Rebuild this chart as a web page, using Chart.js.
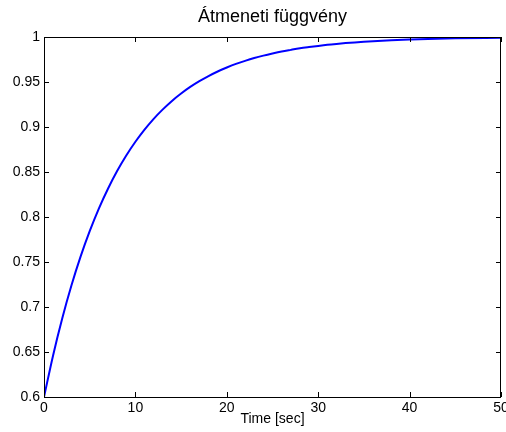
<!DOCTYPE html>
<html>
<head>
<meta charset="utf-8">
<script src="https://cdn.jsdelivr.net/npm/chart.js@4.4.0/dist/chart.umd.min.js"></script>
<style>
  html, body { margin: 0; padding: 0; background: #fff; }
  #wrap { width: 506px; height: 432px; }
</style>
</head>
<body>
<div id="wrap"><canvas id="chart" width="506" height="432"></canvas></div>
<script>
// step response
const timeSec = [0, 1, 2, 3, 4, 5, 6, 7, 8, 9, 10, 11, 12, 13, 14, 15, 16, 17, 18, 19, 20,
  21, 22, 23, 24, 25, 26, 27, 28, 29, 30, 31, 32, 33, 34, 35, 36, 38, 40, 42, 45, 50];
const response = [0.6, 0.6465, 0.6875, 0.7238, 0.7559, 0.7842, 0.8093, 0.8314, 0.8510, 0.8683,
  0.8836, 0.8971, 0.9091, 0.9196, 0.9290, 0.9372, 0.9445, 0.9509, 0.9566, 0.9617, 0.9661,
  0.9701, 0.9735, 0.9766, 0.9793, 0.9817, 0.9839, 0.9857, 0.9874, 0.9888, 0.9901,
  0.9913, 0.9923, 0.9932, 0.9940, 0.9947, 0.9953, 0.9963, 0.9971, 0.9978, 0.9985, 0.9992];
const xTicks = [0, 10, 20, 30, 40, 50];
const yTicks = [0.6, 0.65, 0.7, 0.75, 0.8, 0.85, 0.9, 0.95, 1];

const points = timeSec.map((t, i) => ({ x: t, y: response[i] }));

// matlab style box + inward ticks
const boxTicks = {
  id: "boxTicks",
  afterDraw(chart) {
    const ctx = chart.ctx;
    const a = chart.chartArea;
    const xs = chart.scales.x, ys = chart.scales.y;
    const len = 5;
    ctx.save();
    ctx.strokeStyle = "#000";
    ctx.lineWidth = 1;
    ctx.strokeRect(a.left + 0.5, a.top + 0.5, a.right - a.left - 1, a.bottom - a.top);
    ctx.beginPath();
    xTicks.forEach(v => {
      const px = Math.round(xs.getPixelForValue(v)) + 0.5;
      ctx.moveTo(px, a.bottom); ctx.lineTo(px, a.bottom - len);
      ctx.moveTo(px, a.top); ctx.lineTo(px, a.top + len);
    });
    yTicks.forEach(v => {
      const py = Math.round(ys.getPixelForValue(v)) + 0.5;
      ctx.moveTo(a.left, py); ctx.lineTo(a.left + len, py);
      ctx.moveTo(a.right, py); ctx.lineTo(a.right - len, py);
    });
    ctx.stroke();
    ctx.restore();
  }
};

Chart.defaults.font.family = "'Liberation Sans', Arial, sans-serif";
Chart.defaults.color = "#000";

new Chart(document.getElementById("chart"), {
  type: "line",
  data: {
    datasets: [{
      data: points,
      borderColor: "#0000ff",
      borderWidth: 2,
      pointRadius: 0,
      cubicInterpolationMode: "monotone",
      fill: false
    }]
  },
  options: {
    responsive: false,
    animation: false,
    layout: { padding: { left: 0, right: 5, top: 0, bottom: 0 } },
    plugins: {
      legend: { display: false },
      tooltip: { enabled: false },
      title: {
        display: true,
        fullSize: false,
        text: "Átmeneti függvény",
        font: { size: 18, weight: "normal" },
        padding: { top: 6, bottom: 9.4 }
      }
    },
    scales: {
      x: {
        type: "linear",
        min: 0,
        max: 50,
        afterBuildTicks: s => { s.ticks = xTicks.map(v => ({ value: v })); },
        afterFit: s => { s.height = 35; s.paddingLeft = 0; s.paddingRight = 0; },
        grid: { display: false, drawTicks: false },
        border: { display: false },
        ticks: { font: { size: 14 }, padding: 3, maxRotation: 0 },
        title: { display: true, text: "Time [sec]", font: { size: 14 }, padding: { top: 0, bottom: 4 } }
      },
      y: {
        type: "linear",
        min: 0.6,
        max: 1,
        afterBuildTicks: s => { s.ticks = yTicks.map(v => ({ value: v })); },
        afterFit: s => { s.width = 44; s.paddingTop = 0; s.paddingBottom = 0; },
        grid: { display: false, drawTicks: false },
        border: { display: false },
        ticks: {
          font: { size: 14 },
          padding: 4,
          callback: v => String(+v.toFixed(2))
        }
      }
    }
  },
  plugins: [boxTicks]
});
</script>
</body>
</html>
